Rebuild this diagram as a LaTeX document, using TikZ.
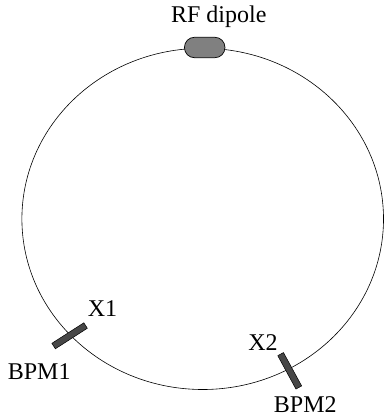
\documentclass[tikz,border=0pt]{standalone}
\usepackage{fontspec}
\setmainfont{Liberation Serif}
\definecolor{dipolegray}{HTML}{808080}
\definecolor{bpmgray}{HTML}{474747}
\tikzset{
  lbl/.style={anchor=base,inner sep=0pt,font=\fontsize{24}{28}\selectfont},
  bpm/.style={draw=black,fill=bpmgray,line width=0.5pt,inner sep=0pt,
    minimum width=38pt,minimum height=6.5pt},
}
\begin{document}
\begin{tikzpicture}[x=1pt,y=-1pt]
\useasboundingbox (0,0) rectangle (385,419);

% ring
\draw[line width=0.6pt] (202.7,218.9) ellipse [x radius=180.8, y radius=170.6];

% RF dipole on top of the ring
\node[draw=black,fill=dipolegray,line width=0.7pt,rounded corners=10pt,
  minimum width=40.5pt,minimum height=20.4pt,inner sep=0pt] (dipole) at (204.7,47.5) {};
\node[lbl] (dipolelbl) at (218.8,23) {RF dipole};

% beam position monitors
\node[bpm,rotate=32.7] (bpm1) at (69.6,335.8) {};
\node[bpm,rotate=-61.4] (bpm2) at (289.7,370.8) {};

\node[lbl] (x1) at (102.5,316.7) {X1};
\node[lbl] (bpm1lbl) at (39.2,379) {BPM1};
\node[lbl] (x2) at (263,350) {X2};
\node[lbl] (bpm2lbl) at (305.3,412) {BPM2};

\end{tikzpicture}
\end{document}
